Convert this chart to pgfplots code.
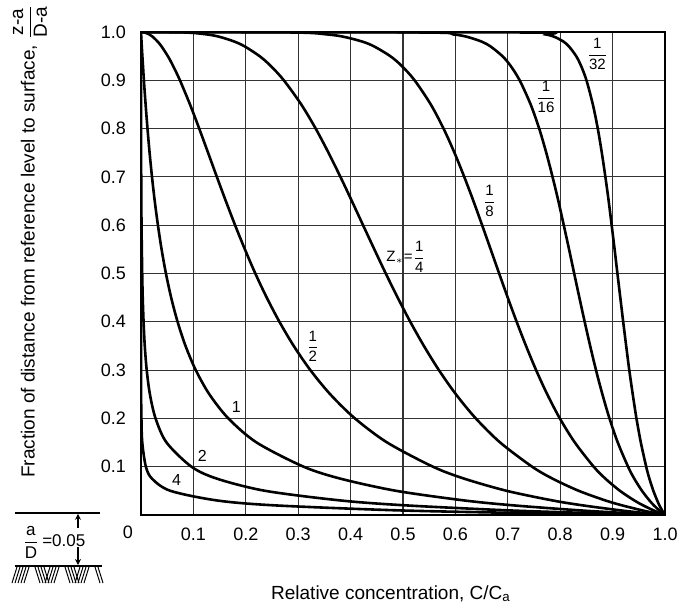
\documentclass[border=0pt]{standalone}
\usepackage{amsmath}
\usepackage{fontspec}
\setmainfont{Liberation Sans}
\usepackage{pgfplots}
\pgfplotsset{compat=1.18}
\usetikzlibrary{calc,arrows.meta}
\newcommand{\fr}[2]{$\genfrac{}{}{0.5pt}{0}{\text{#1}}{\text{#2}}$}
\pgfplotsset{rc/.style={black, solid, no marks, line width=1.3pt, smooth, tension=0.5}}
\begin{document}
\begin{tikzpicture}
\begin{axis}[
  scale only axis, width=262pt, height=241.5pt,
  xmin=0, xmax=1, ymin=0, ymax=1,
  xtick={0.1,0.2,0.3,0.4,0.5,0.6,0.7,0.8,0.9,1.0},
  ytick={0.1,0.2,0.3,0.4,0.5,0.6,0.7,0.8,0.9,1.0},
  grid=major, major grid style={black!80, line width=0.6pt},
  axis line style={line width=1.4pt},
  major tick length=0pt,
  tick label style={font=\fontsize{9}{11}\selectfont},
  /pgf/number format/.cd, fixed, fixed zerofill, precision=1, assume math mode=true,
  /pgfplots/.cd,
  xticklabel style={yshift=-3pt},
  yticklabel style={xshift=-4pt},
]
% Z = 4
\addplot[rc] coordinates {(1,0) (0.8545,0.002) (0.6818,0.005) (0.4790,0.01) (0.2543,0.02) (0.1457,0.03) (0.0563,0.05) (0.0212,0.075) (0.0093,0.1) (0.0024,0.15) (0.0008,0.2) (0.0002,0.25) (0.0001,0.3) (0,0.4)};
% Z = 2
\addplot[rc] coordinates {(1,0) (0.9244,0.002) (0.8257,0.005) (0.6921,0.01) (0.5043,0.02) (0.3817,0.03) (0.2373,0.05) (0.1455,0.075) (0.0963,0.1) (0.0488,0.15) (0.0278,0.2) (0.0170,0.25) (0.0109,0.3) (0.0072,0.35) (0.0049,0.4) (0.0033,0.45) (0.0023,0.5) (0.0010,0.6) (0.0004,0.7) (0.0002,0.8) (0,0.9)};
% Z = 1
\addplot[rc] coordinates {(1,0) (0.9615,0.002) (0.9087,0.005) (0.8319,0.01) (0.7101,0.02) (0.6178,0.03) (0.4872,0.05) (0.3815,0.075) (0.3103,0.1) (0.2208,0.15) (0.1667,0.2) (0.1304,0.25) (0.1045,0.3) (0.0850,0.35) (0.0698,0.4) (0.0576,0.45) (0.0476,0.5) (0.0393,0.55) (0.0323,0.6) (0.0262,0.65) (0.0210,0.7) (0.0164,0.75) (0.0124,0.8) (0.0088,0.85) (0.0055,0.9) (0.0038,0.93) (0.0026,0.95) (0.0015,0.97) (0.0010,0.98) (0.0005,0.99) (0,1)};
% Z = 1/2
\addplot[rc] coordinates {(1,0) (0.9805,0.002) (0.9532,0.005) (0.9121,0.01) (0.8427,0.02) (0.7860,0.03) (0.6980,0.05) (0.6176,0.075) (0.5571,0.1) (0.4699,0.15) (0.4082,0.2) (0.3611,0.25) (0.3232,0.3) (0.2915,0.35) (0.2642,0.4) (0.2400,0.45) (0.2182,0.5) (0.1983,0.55) (0.1796,0.6) (0.1619,0.65) (0.1448,0.7) (0.1280,0.75) (0.1111,0.8) (0.0935,0.85) (0.0743,0.9) (0.0612,0.93) (0.0512,0.95) (0.0393,0.97) (0.0319,0.98) (0.0225,0.99) (0.0158,0.995) (0.0071,0.999) (0,1)};
% Z = 1/4
\addplot[rc] coordinates {(1,0) (0.9902,0.002) (0.9763,0.005) (0.9550,0.01) (0.9180,0.02) (0.8866,0.03) (0.8355,0.05) (0.7859,0.075) (0.7464,0.1) (0.6855,0.15) (0.6389,0.2) (0.6009,0.25) (0.5685,0.3) (0.5399,0.35) (0.5139,0.4) (0.4899,0.45) (0.4671,0.5) (0.4453,0.55) (0.4238,0.6) (0.4024,0.65) (0.3806,0.7) (0.3578,0.75) (0.3334,0.8) (0.3058,0.85) (0.2726,0.9) (0.2474,0.93) (0.2263,0.95) (0.1982,0.97) (0.1787,0.98) (0.1499,0.99) (0.1259,0.995) (0.0841,0.999) (0,1)};
% Z = 1/8
\addplot[rc] coordinates {(1,0) (0.9951,0.002) (0.9881,0.005) (0.9772,0.01) (0.9581,0.02) (0.9416,0.03) (0.9141,0.05) (0.8865,0.075) (0.8639,0.1) (0.8280,0.15) (0.7993,0.2) (0.7752,0.25) (0.7540,0.3) (0.7348,0.35) (0.7169,0.4) (0.6999,0.45) (0.6835,0.5) (0.6673,0.55) (0.6510,0.6) (0.6344,0.65) (0.6169,0.7) (0.5982,0.75) (0.5774,0.8) (0.5530,0.85) (0.5221,0.9) (0.4974,0.93) (0.4757,0.95) (0.4452,0.97) (0.4227,0.98) (0.3872,0.99) (0.3548,0.995) (0.2900,0.999) (0,1)};
% Z = 1/16
\addplot[rc] coordinates {(1,0) (0.9975,0.002) (0.9940,0.005) (0.9885,0.01) (0.9788,0.02) (0.9704,0.03) (0.9561,0.05) (0.9415,0.075) (0.9295,0.1) (0.9099,0.15) (0.8940,0.2) (0.8805,0.25) (0.8683,0.3) (0.8572,0.35) (0.8467,0.4) (0.8366,0.45) (0.8267,0.5) (0.8169,0.55) (0.8068,0.6) (0.7965,0.65) (0.7854,0.7) (0.7734,0.75) (0.7599,0.8) (0.7436,0.85) (0.7226,0.9) (0.7053,0.93) (0.6897,0.95) (0.6672,0.97) (0.6502,0.98) (0.6223,0.99) (0.5957,0.995) (0.5385,0.999) (0,1)};
% Z = 1/32
\addplot[rc] coordinates {(1,0) (0.9987,0.002) (0.9970,0.005) (0.9942,0.01) (0.9893,0.02) (0.9851,0.03) (0.9778,0.05) (0.9703,0.075) (0.9641,0.1) (0.9539,0.15) (0.9455,0.2) (0.9384,0.25) (0.9318,0.3) (0.9259,0.35) (0.9202,0.4) (0.9147,0.45) (0.9092,0.5) (0.9038,0.55) (0.8982,0.6) (0.8925,0.65) (0.8862,0.7) (0.8794,0.75) (0.8717,0.8) (0.8623,0.85) (0.8501,0.9) (0.8398,0.93) (0.8305,0.95) (0.8168,0.97) (0.8064,0.98) (0.7889,0.99) (0.7718,0.995) (0.7338,0.999) (0,1)};
% curve labels
\node[font=\fontsize{7.5}{8}\selectfont, inner sep=0pt] at (axis cs:0.871,0.954) {\fr{1}{32}};
\node[font=\fontsize{7.5}{8}\selectfont, inner sep=0pt] at (axis cs:0.773,0.865) {\fr{1}{16}};
\node[font=\fontsize{7.5}{8}\selectfont, inner sep=0pt] at (axis cs:0.665,0.650) {\fr{1}{8}};
\node[font=\fontsize{7.5}{8}\selectfont, inner sep=0pt] at (axis cs:0.506,0.535) {Z$_{\ast}$=\fr{1}{4}};
\node[font=\fontsize{7.5}{8}\selectfont, inner sep=0pt] at (axis cs:0.328,0.349) {\fr{1}{2}};
\node[font=\fontsize{8}{9}\selectfont, inner sep=0pt] at (axis cs:0.182,0.224) {1};
\node[font=\fontsize{8}{9}\selectfont, inner sep=0pt] at (axis cs:0.117,0.122) {2};
\node[font=\fontsize{8}{9}\selectfont, inner sep=0pt] at (axis cs:0.068,0.072) {4};
\coordinate (SW) at (rel axis cs:0,0);
\coordinate (NE) at (rel axis cs:1,1);
\end{axis}
% corner zero
\node[font=\fontsize{9}{11}\selectfont] at ($(SW)+(-6.5pt,-8.5pt)$) {0};
% y label
\node[rotate=90, font=\fontsize{9.5}{11}\selectfont] at ($(SW)+(-55.5pt,137pt)$)
  {Fraction of distance from reference level to surface, \fr{z-a}{D-a}};
% x label
\node[anchor=base, font=\fontsize{9.5}{11}\selectfont] at ($(SW)+(125pt,-42pt)$)
  {Relative concentration, C/C\textsubscript{a}};
% a/D annotation
\draw[line width=0.8pt] ($(SW)+(-63pt,1pt)$) -- ($(SW)+(-20.5pt,1pt)$);
\draw[line width=0.6pt, -{Stealth[length=3pt,width=3pt]}] ($(SW)+(-31.5pt,-6.5pt)$) -- ($(SW)+(-31.5pt,0.6pt)$);
\node[anchor=west, font=\fontsize{8.5}{10}\selectfont, inner sep=0pt] at ($(SW)+(-59.5pt,-13.5pt)$) {\fr{a}{D}\,=0.05};
\draw[line width=0.6pt, -{Stealth[length=3pt,width=3pt]}] ($(SW)+(-31.5pt,-16pt)$) -- ($(SW)+(-31.5pt,-25pt)$);
\draw[line width=1.2pt] ($(SW)+(-63pt,-25.5pt)$) -- ($(SW)+(-19.5pt,-25.5pt)$);
\foreach \x/\s in {-62/-1,-60.5/-1,-59/-1,-57.5/-1,-56/-1,-53/1,-51.5/1,-50/1,-48.5/1,-45.5/-1,-44/-1,-42.5/-1,-41/-1,-38/1,-36.5/1,-35/1,-33.5/1,-30.5/-1,-29/-1,-27.5/-1,-26/-1,-23/1,-21.5/1}
  {\draw[line width=0.5pt] ($(SW)+(\x pt,-26pt)$) -- ++(\s*2.5pt,-8pt);}
\pgfresetboundingbox
\path ($(SW)+(-70.5pt,-47.5pt)$) rectangle ($(NE)+(9pt,16pt)$);
\end{tikzpicture}
\end{document}
